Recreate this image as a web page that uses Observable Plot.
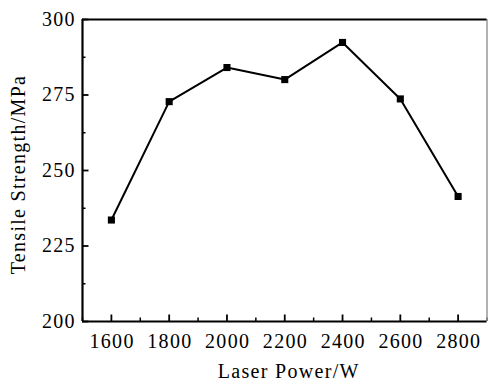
<!DOCTYPE html>
<html>
<head>
<meta charset="utf-8">
<script src="https://cdn.jsdelivr.net/npm/d3@7"></script>
<script src="https://cdn.jsdelivr.net/npm/@observablehq/plot@0.6"></script>
<style>
  html, body { margin: 0; padding: 0; background: #fff; }
  svg text { font-family: "Liberation Serif", "Times New Roman", serif; letter-spacing: 1.3px; }
</style>
</head>
<body>
<div id="chart"></div>
<script>
const power = [1600, 1800, 2000, 2200, 2400, 2600, 2800];
const strength = [233.6, 272.8, 284.1, 280.1, 292.4, 273.7, 241.4];
const xTicks = [1600, 1800, 2000, 2200, 2400, 2600, 2800];
const xMinor = [1500, 1700, 1900, 2100, 2300, 2500, 2700, 2900];
const yTicks = [200, 225, 250, 275, 300];
const yMinor = [212.5, 237.5, 262.5, 287.5];
const xDomain = [1500, 2900];
const yDomain = [200, 300];
const xLabel = "Laser Power/W";
const yLabel = "Tensile Strength/MPa";

const data = power.map((p, i) => ({power: p, strength: strength[i]}));
const FF = "Liberation Serif";

const chart = Plot.plot({
  width: 488,
  height: 385,
  marginLeft: 82,
  marginRight: 1.5,
  marginTop: 19,
  marginBottom: 64,
  style: {fontFamily: "'Liberation Serif', serif", fontSize: "20px", color: "#000", background: "#fff"},
  x: {domain: xDomain},
  y: {domain: yDomain},
  marks: [
    // tick labels
    Plot.axisX({ticks: xTicks, tickSize: 0, tickPadding: 12, tickFormat: d => String(d), label: null, fontSize: 20, fontFamily: FF, dx: 0.7}),
    Plot.axisY({ticks: yTicks, tickSize: 0, tickPadding: 6.7, tickFormat: d => String(d), label: null, fontSize: 20, fontFamily: FF}),
    // inward ticks
    Plot.axisX({ticks: xTicks, tickSize: -6.5, text: null, label: null, strokeWidth: 1.8}),
    Plot.axisX({ticks: xMinor, tickSize: -3.5, text: null, label: null, strokeWidth: 1.5}),
    Plot.axisY({ticks: yTicks, tickSize: -6.5, text: null, label: null, strokeWidth: 1.8}),
    Plot.axisY({ticks: yMinor, tickSize: -3.5, text: null, label: null, strokeWidth: 1.5}),
    // frame
    Plot.ruleX([xDomain[1]], {stroke: "#999", strokeWidth: 1.5}),
    Plot.ruleY([yDomain[0], yDomain[1]], {stroke: "#000", strokeWidth: 2.2}),
    Plot.ruleX([xDomain[0]], {stroke: "#000", strokeWidth: 2.2}),
    // axis titles
    Plot.text([xLabel], {text: d => d, frameAnchor: "bottom", textAnchor: "middle", dx: 4, dy: 56, fontSize: 20, fontFamily: FF, lineAnchor: "bottom"}),
    Plot.text([yLabel], {text: d => d, frameAnchor: "left", textAnchor: "middle", dx: -64, dy: 4, rotate: -90, fontSize: 20, fontFamily: FF, lineAnchor: "middle"}),
    // data
    Plot.line(data, {x: "power", y: "strength", stroke: "#000", strokeWidth: 2}),
    Plot.dot(data, {x: "power", y: "strength", symbol: "square", r: 4, fill: "#000", stroke: "none"})
  ]
});

document.getElementById("chart").appendChild(chart);
</script>
</body>
</html>
